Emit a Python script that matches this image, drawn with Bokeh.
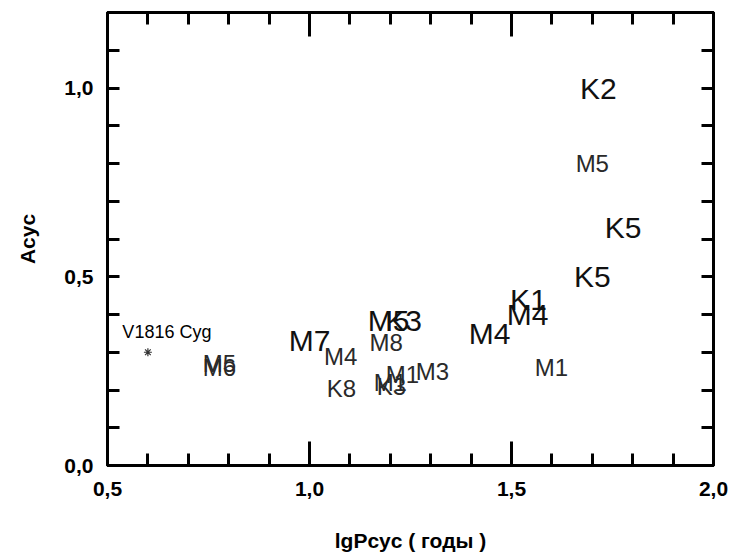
from bokeh.plotting import figure
from bokeh.models import (ColumnDataSource, FixedTicker, LinearAxis,
                          CustomJSTickFormatter, Range1d)
from bokeh.core.properties import value
from bokeh.embed import file_html
from bokeh.resources import INLINE

# ---- data ----
labels = ["K2", "M5", "K5", "K5", "K1", "M4", "M4", "M1", "M3", "M1",
          "K3", "M1", "M8", "M5", "K3", "M7", "M4", "K8", "M5", "M6"]
lg_p = [1.715, 1.700, 1.776, 1.700, 1.542, 1.540, 1.446, 1.599, 1.304, 1.230,
        1.203, 1.200, 1.190, 1.196, 1.233, 1.000, 1.077, 1.079, 0.777, 0.777]
a_cyc = [1.000, 0.800, 0.630, 0.500, 0.440, 0.400, 0.350, 0.260, 0.250, 0.240,
         0.210, 0.220, 0.327, 0.383, 0.383, 0.330, 0.288, 0.203, 0.270, 0.260]
big = [1, 0, 1, 1, 1, 1, 1, 0, 0, 0,
       0, 0, 0, 1, 1, 1, 0, 0, 0, 0]

star_name = ["V1816 Cyg"]
star_x = [0.60]
star_y = [0.30]

x_ticks = [0.5, 1.0, 1.5, 2.0]
x_minor = [0.6, 0.7, 0.8, 0.9, 1.1, 1.2, 1.3, 1.4, 1.6, 1.7, 1.8, 1.9]
y_ticks = [0.0, 0.5, 1.0]
y_minor = [0.1, 0.2, 0.3, 0.4, 0.6, 0.7, 0.8, 0.9, 1.1, 1.2]

x_title = "lgPcyc ( годы )"
y_title = "Acyc"

FONT = "Liberation Sans"

p = figure(width=729, height=558, x_range=Range1d(0.5, 2.0), y_range=Range1d(0, 1.2),
           x_axis_type=None, y_axis_type=None, output_backend="svg",
           toolbar_location=None, min_border_left=107, min_border_right=16,
           min_border_top=12, min_border_bottom=93)
p.grid.visible = False
p.background_fill_color = "white"
p.border_fill_color = "white"
p.outline_line_color = "black"
p.outline_line_width = 3

fmt = CustomJSTickFormatter(code="return tick.toFixed(1).replace('.', ',');")


def make_axis(ticks, minor, show, maj_in, min_in, standoff):
    ax = LinearAxis(ticker=FixedTicker(ticks=ticks, minor_ticks=minor), formatter=fmt)
    ax.axis_line_width = 3
    ax.axis_line_color = "black"
    ax.major_tick_line_width = 3
    ax.minor_tick_line_width = 3
    ax.major_tick_in = maj_in
    ax.major_tick_out = 0
    ax.minor_tick_in = min_in
    ax.minor_tick_out = 0
    ax.major_label_text_font = FONT
    ax.major_label_text_font_style = "bold"
    ax.major_label_text_color = "black"
    ax.major_label_text_font_size = "21px"
    ax.major_label_standoff = standoff
    ax.axis_label_text_font = FONT
    ax.axis_label_text_font_style = "bold"
    ax.axis_label_text_font_size = "21px"
    ax.axis_label_text_color = "black"
    if not show:
        ax.major_label_text_alpha = 0
        ax.major_label_standoff = 0
    return ax


xb = make_axis(x_ticks, x_minor, True, 24, 12, 16)
xb.axis_label = x_title
xb.axis_label_standoff = 30
p.add_layout(xb, "below")
p.add_layout(make_axis(x_ticks, x_minor, False, 24, 12, 0), "above")
yl = make_axis(y_ticks, y_minor, True, 12, 12, 14)
yl.axis_label = y_title
yl.axis_label_standoff = 22
p.add_layout(yl, "left")
p.add_layout(make_axis(y_ticks, y_minor, False, 12, 12, 0), "right")

src = ColumnDataSource(dict(
    x=lg_p, y=a_cyc, t=labels,
    fs=["30px" if b else "24px" for b in big],
    c=["#111111" if b else "#2a2a2a" for b in big],
))
p.text(x="x", y="y", text="t", source=src, text_font=value(FONT),
       text_font_size="fs", text_color="c", text_align="center",
       text_baseline="middle")

ssrc = ColumnDataSource(dict(x=star_x, y=star_y, name=star_name))
p.scatter(x="x", y="y", source=ssrc, marker="asterisk", size=8,
          line_color="#333333", line_width=1.2)
p.text(x="x", y="y", text="name", source=ssrc, text_font=value(FONT),
       text_font_size="18px", text_color="black", text_align="center",
       text_baseline="middle", x_offset=19, y_offset=-20)

open("out.html", "w").write(file_html(p, INLINE))
